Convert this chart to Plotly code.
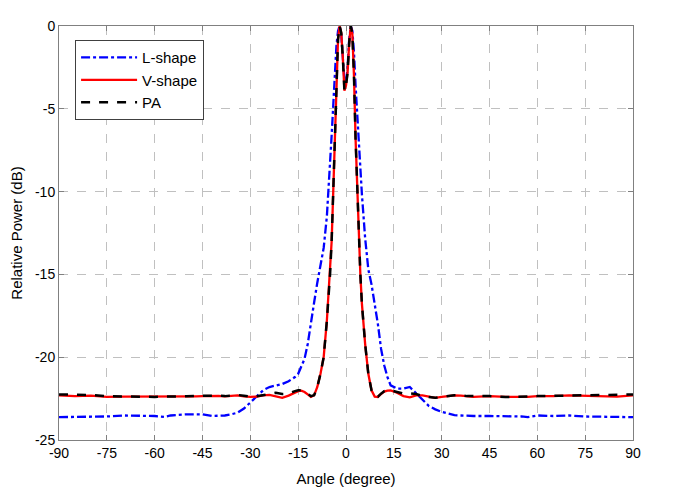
import plotly.graph_objects as go

# Angles (degree)
angle = [-90, -85, -80, -75, -70, -65, -60, -57, -55, -50, -47, -45, -42, -40, -38, -36, -34, -32, -30,
         -28, -26, -24, -22, -20, -18, -16, -15, -14, -13, -12, -11, -10, -9, -8, -7, -6, -5, -4.5, -4,
         -3.5, -3, -2.5, -2, -1.5, -1, -0.5, 0, 0.5, 1, 1.5, 2, 2.5, 3, 3.5, 4, 4.5, 5, 6, 7, 8, 9, 10,
         11, 12, 13, 14, 16, 18, 20, 22, 24, 26, 28, 30, 32, 34, 36, 38, 40, 45, 50, 55, 57, 60, 65, 70,
         75, 80, 85, 90]

l_shape = [-23.62, -23.62, -23.6, -23.58, -23.52, -23.52, -23.55, -23.6, -23.52, -23.45, -23.44, -23.45,
           -23.55, -23.55, -23.52, -23.45, -23.35, -23.1, -22.75, -22.4, -22.0, -21.8, -21.72, -21.62,
           -21.45, -21.2, -21.0, -20.6, -20.1, -19.2, -17.8, -16.7, -15.5, -14.5, -13.4, -11.5, -8.5,
           -6.6, -4.8, -2.8, -1.2, -0.3, 0.0, -0.5, -1.9, -3.3, -3.5, -2.5, -0.8, 0.0, -0.3, -1.6, -3.6,
           -5.3, -6.8, -8.6, -10.2, -12.8, -14.7, -15.6, -16.8, -18.0, -19.5, -20.5, -21.2, -21.7, -21.9,
           -21.9, -21.8, -22.2, -22.6, -22.95, -23.15, -23.3, -23.4, -23.5, -23.52, -23.55, -23.55,
           -23.55, -23.55, -23.58, -23.62, -23.52, -23.55, -23.52, -23.58, -23.6, -23.62, -23.62]

v_shape = [-22.3, -22.35, -22.32, -22.4, -22.38, -22.38, -22.4, -22.4, -22.4, -22.38, -22.36, -22.35,
           -22.32, -22.33, -22.36, -22.32, -22.3, -22.36, -22.4, -22.38, -22.3, -22.28, -22.35, -22.45,
           -22.32, -22.12, -22.05, -22.02, -22.1, -22.25, -22.4, -22.3, -21.8, -21.0, -20.0, -17.8,
           -15.0, -13.0, -10.0, -6.6, -3.0, -0.8, 0.0, -0.4, -1.9, -3.9, -3.6, -2.8, -1.0, 0.0, -0.5,
           -3.0, -6.8, -10.0, -13.0, -15.0, -16.8, -19.2, -21.0, -22.0, -22.38, -22.4, -22.22, -22.08,
           -22.02, -22.0, -22.15, -22.35, -22.42, -22.3, -22.3, -22.38, -22.45, -22.4, -22.35, -22.3,
           -22.32, -22.36, -22.4, -22.35, -22.4, -22.4, -22.4, -22.35, -22.35, -22.3, -22.32, -22.38,
           -22.38, -22.3]

pa = [-22.25, -22.27, -22.28, -22.35, -22.38, -22.4, -22.4, -22.38, -22.38, -22.36, -22.33, -22.33,
      -22.3, -22.32, -22.35, -22.3, -22.28, -22.33, -22.38, -22.36, -22.28, -22.2, -22.15, -22.22,
      -22.2, -22.05, -22.0, -22.0, -22.08, -22.2, -22.35, -22.3, -21.8, -21.0, -20.0, -17.8, -15.0,
      -13.0, -10.0, -6.6, -3.0, -0.8, 0.0, -0.4, -1.9, -3.9, -3.6, -2.8, -1.0, 0.0, -0.5, -3.0, -6.8,
      -10.0, -13.0, -15.0, -16.8, -19.2, -21.0, -22.0, -22.35, -22.38, -22.2, -22.05, -22.0, -22.0,
      -22.1, -22.2, -22.18, -22.22, -22.35, -22.4, -22.45, -22.4, -22.35, -22.3, -22.3, -22.35, -22.35,
      -22.35, -22.4, -22.4, -22.38, -22.35, -22.33, -22.3, -22.28, -22.25, -22.25, -22.25]

x_ticks = [-90, -75, -60, -45, -30, -15, 0, 15, 30, 45, 60, 75, 90]
y_ticks = [-25, -20, -15, -10, -5, 0]

font_family = "Arial, Liberation Sans, sans-serif"

fig = go.Figure()
fig.add_trace(go.Scatter(x=angle, y=l_shape, mode="lines", name="L-shape",
                         line=dict(color="#0000ff", width=2.3, dash="dashdot")))
fig.add_trace(go.Scatter(x=angle, y=v_shape, mode="lines", name="V-shape",
                         line=dict(color="#ff0000", width=2.3)))
fig.add_trace(go.Scatter(x=angle, y=pa, mode="lines", name="PA",
                         line=dict(color="#000000", width=2.5, dash="dash")))

axis_common = dict(
    showline=True, linecolor="#808080", linewidth=1, mirror="ticks",
    ticks="inside", ticklen=5, tickcolor="#808080",
    showgrid=True, gridcolor="#c0c0c0", griddash="dash", gridwidth=1,
    zeroline=False, automargin=False,
    tickfont=dict(family=font_family, size=14, color="black"),
)

fig.update_xaxes(range=[-90, 90], tickvals=x_ticks, ticktext=[str(v) for v in x_ticks],
                 title=dict(text="Angle (degree)", font=dict(family=font_family, size=15, color="black"),
                            standoff=13),
                 **axis_common)
fig.update_yaxes(range=[-25, 0], tickvals=y_ticks, ticktext=[str(v) for v in y_ticks],
                 title=dict(text="Relative Power (dB)", font=dict(family=font_family, size=15, color="black"),
                            standoff=13),
                 **axis_common)

fig.update_layout(
    width=677, height=485,
    margin=dict(l=51, r=52, t=18, b=53),
    plot_bgcolor="white", paper_bgcolor="white",
    font=dict(family=font_family, size=15, color="black"),
    legend=dict(x=0.028, y=0.966, xanchor="left", yanchor="top",
                bgcolor="white", bordercolor="#404040", borderwidth=1,
                font=dict(family=font_family, size=15, color="black"),
                tracegroupgap=0, itemwidth=56),
    showlegend=True,
)

fig.write_html("out.html")
